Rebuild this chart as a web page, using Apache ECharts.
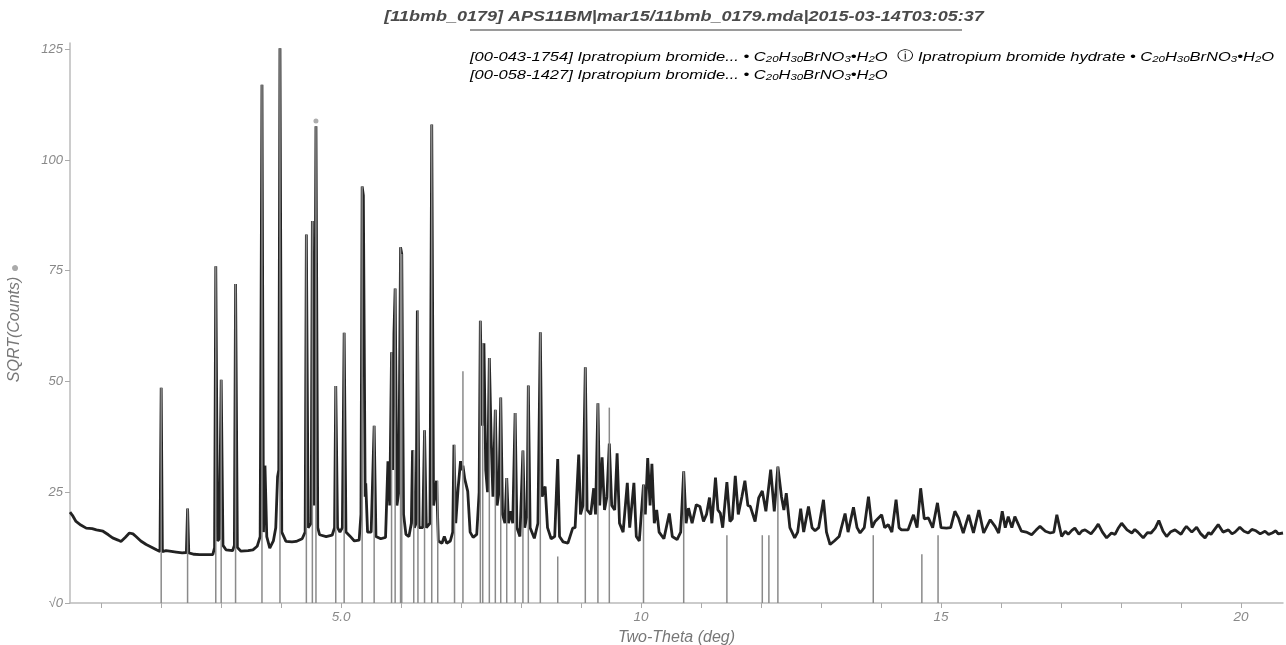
<!DOCTYPE html>
<html>
<head>
<meta charset="utf-8">
<script src="https://cdn.jsdelivr.net/npm/echarts@6/dist/echarts.min.js"></script>
<style>
html,body{margin:0;padding:0;background:#fff;}
#chart{width:1286px;height:645px;}
</style>
</head>
<body>
<div id="chart"></div>
<script>
// ---- DATA ----
const titleText = '[11bmb_0179] APS11BM|mar15/11bmb_0179.mda|2015-03-14T03:05:37';
const xTickValues = [1,2,3,4,5,6,7,8,9,10,11,12,13,14,15,16,17,18,19,20];
const xLabelValues = [5,10,15,20];
const yLabelValues = [0,25,50,75,100,125];

// observed profile: [two-theta, sqrt(counts)]
const profile = [
[0.48,20.5],[0.52,19.8],[0.58,18.4],[0.66,17.6],[0.75,16.9],[0.85,16.8],[0.92,16.5],[1.03,16.2],
[1.12,15.4],[1.19,14.7],[1.28,14.2],[1.33,13.9],[1.40,14.8],[1.47,15.8],[1.53,15.6],[1.58,15.0],
[1.66,14.0],[1.75,13.2],[1.84,12.6],[1.92,12.0],[1.98,11.6],[2.00,48.6],[2.02,11.6],[2.08,11.8],
[2.14,11.7],[2.25,11.5],[2.35,11.3],[2.42,11.4],[2.44,21.3],[2.46,11.3],[2.55,11.0],[2.64,10.9],
[2.75,10.9],[2.86,10.9],[2.89,12.5],[2.91,76],[2.94,14],[2.97,14.5],[3.00,50.4],[3.03,13],
[3.08,12],[3.19,11.8],[3.22,13],[3.24,72],[3.27,12.5],[3.33,11.7],[3.45,11.8],[3.53,12.0],
[3.60,12.8],[3.65,15],[3.68,117],[3.705,16],[3.73,31],[3.76,15],[3.81,12.4],[3.87,14],
[3.91,17],[3.94,28.5],[3.96,30],[3.98,125.2],[4.01,16],[4.08,13.9],[4.18,13.8],[4.25,13.9],
[4.35,14.5],[4.40,16],[4.42,83.2],[4.45,17],[4.50,18],[4.52,86.2],[4.55,22],[4.58,107.6],
[4.61,17],[4.64,15.4],[4.75,15],[4.85,15.3],[4.89,17],[4.91,49],[4.94,17],[4.98,16],
[5.02,17],[5.05,61],[5.08,16],[5.14,15.2],[5.22,14],[5.30,14.2],[5.33,20],[5.35,94],
[5.37,92],[5.40,24],[5.41,27],[5.44,16],[5.50,16],[5.55,40],[5.58,15],[5.66,14.5],
[5.74,14.8],[5.78,32],[5.81,22],[5.84,56.6],[5.86,30],[5.88,60.8],[5.90,71],[5.93,22],
[5.96,25],[5.99,80.3],[6.01,78.8],[6.04,20],[6.08,15.5],[6.13,15],[6.17,18],[6.19,34.5],
[6.22,17],[6.25,18],[6.27,66],[6.30,17],[6.36,17],[6.39,39],[6.42,17],[6.48,18],
[6.51,108],[6.54,22],[6.59,27.6],[6.62,14],[6.68,13.5],[6.72,15],[6.76,13.5],[6.82,14],
[6.86,16],[6.88,35.7],[6.91,18],[6.95,26],[6.99,32],[7.01,30],[7.03,31],[7.06,28],
[7.11,25.2],[7.15,16],[7.20,14.8],[7.26,15.5],[7.30,25],[7.32,63.7],[7.35,40],[7.38,58.6],
[7.41,30],[7.44,25],[7.47,55.3],[7.50,37.2],[7.53,24],[7.57,43.6],[7.60,22],[7.63,25],
[7.66,46.4],[7.69,20],[7.73,18],[7.76,28.2],[7.79,18],[7.83,20.7],[7.86,18],[7.90,42.9],
[7.93,17],[7.98,15],[8.03,34.4],[8.06,17],[8.10,20],[8.12,49.1],[8.15,17],[8.22,14.6],
[8.28,18],[8.32,61.1],[8.35,24],[8.40,26.3],[8.44,17],[8.50,14.5],[8.56,15],[8.61,32.5],
[8.64,15],[8.70,13.8],[8.78,13.5],[8.86,16.9],[8.90,17],[8.96,33.5],[8.99,20],[9.03,22],
[9.07,53.2],[9.10,21],[9.16,20],[9.21,25.9],[9.24,20],[9.28,45.1],[9.31,22],[9.35,32.9],
[9.39,21],[9.43,24],[9.47,36],[9.51,22],[9.56,21],[9.60,33.8],[9.64,18],[9.70,16],
[9.77,27.1],[9.81,17],[9.84,17],[9.88,27.1],[9.92,15],[9.97,14],[10.04,26.7],[10.07,20],
[10.11,32.7],[10.15,22],[10.18,31.4],[10.22,18],[10.26,21],[10.30,16],[10.38,14.5],[10.47,20.2],
[10.52,15],[10.60,14.3],[10.66,16],[10.71,29.7],[10.75,18],[10.79,21.4],[10.85,18],[10.92,22.2],
[10.98,21.8],[11.04,18.4],[11.09,20],[11.14,23.8],[11.18,18],[11.24,28.3],[11.28,21],[11.32,20.3],
[11.36,17],[11.43,27.3],[11.48,18.4],[11.52,19],[11.57,28.7],[11.62,20],[11.68,24],[11.73,27.6],
[11.78,22],[11.82,21.8],[11.90,18.4],[11.96,23.7],[12.02,25.3],[12.08,20.7],[12.16,30.1],[12.22,20.7],
[12.28,30.8],[12.34,24],[12.38,21],[12.42,24.8],[12.48,17],[12.56,14.7],[12.61,16],[12.66,21.3],
[12.71,16],[12.79,21.8],[12.85,17],[12.90,16.3],[12.96,17],[13.04,23.3],[13.09,16],[13.15,13.2],
[13.22,14],[13.30,15],[13.40,20.2],[13.45,16],[13.54,21.6],[13.60,17],[13.65,15.8],[13.72,17],
[13.79,24],[13.85,17],[13.90,18.4],[14.01,19.9],[14.06,17],[14.12,17.7],[14.18,16],[14.25,23.3],
[14.30,17],[14.34,16.5],[14.45,16.5],[14.54,19.9],[14.60,17],[14.66,25.9],[14.72,19],[14.79,19.2],
[14.86,17],[14.94,22.6],[15.00,17],[15.09,16.9],[15.16,17],[15.23,20.7],[15.29,19.2],[15.37,15.8],
[15.46,19.9],[15.54,15.8],[15.63,21],[15.71,15.8],[15.82,18.8],[15.90,17.3],[15.96,15.8],[16.02,20.7],
[16.07,17],[16.12,19.5],[16.18,17],[16.23,19.5],[16.34,16.2],[16.42,16],[16.51,15.4],[16.58,16.4],
[16.65,17.3],[16.74,16.2],[16.82,15.8],[16.88,16],[16.93,19.9],[17.01,15],[17.07,16.2],[17.12,15.5],
[17.18,16.4],[17.23,16.9],[17.30,15.5],[17.35,16.3],[17.40,16.5],[17.50,15.6],[17.56,16.6],[17.62,17.8],
[17.69,16],[17.76,14.7],[17.84,15.8],[17.90,15.5],[17.95,16.8],[18.01,18],[18.10,16.5],[18.18,15.8],
[18.23,16.6],[18.28,16],[18.37,14.7],[18.44,15.9],[18.50,15.8],[18.57,16.9],[18.63,18.6],[18.70,16.2],
[18.76,15],[18.83,16.1],[18.90,16.5],[19.00,15.5],[19.05,16.6],[19.09,17.3],[19.18,16],[19.26,17.1],
[19.33,15.6],[19.40,14.7],[19.46,15.9],[19.50,15.5],[19.57,16.8],[19.62,17.7],[19.70,16],[19.79,16.5],
[19.85,15.6],[19.90,16],[19.98,17.1],[20.05,16.2],[20.12,15.8],[20.18,16.6],[20.25,16.3],[20.32,15.6],
[20.40,16.2],[20.46,15.5],[20.52,15.8],[20.58,16.3],[20.62,15.6],[20.70,15.8]
];

// reference pattern sticks: positions and heights
const stickPos = [2.00,2.44,2.91,3.00,3.24,3.68,3.98,4.42,4.52,4.58,4.91,5.05,5.35,5.55,5.84,5.90,5.99,6.01,
  6.21,6.28,6.39,6.51,6.61,6.89,7.03,7.32,7.36,7.47,7.57,7.66,7.76,7.90,8.03,8.12,8.32,8.61,9.07,9.28,9.47,
  10.04,10.71,11.43,12.02,12.13,12.28,13.87,14.68,14.95];
const stickHeight = [48.6,21.3,76,50.4,72,117,125.2,83.2,86.2,107.6,49,61,94,40,56.6,71,80.3,78.8,
  34.5,66,39,108,27.6,35.7,52.3,63.7,58.6,55.3,43.6,46.4,28.2,42.9,34.4,49.1,61.1,10.5,53.2,45.1,44.1,
  26.7,29.7,15.3,15.3,15.3,30.8,15.3,11,15.3];

const markerPt = [[4.58,108.8]];

// ---- CHART ----
const stickData = stickPos.map((p,i)=>[p, stickHeight[i]]);
const chart = echarts.init(document.getElementById('chart'));
const gray = '#8a8a8a';
const FF = 'Liberation Sans';
function rs(c, size){ return {fontSize:size,fontStyle:'italic',fontFamily:FF,color:c}; }
const rich = {
  t: rs('#444',13),
  s: Object.assign(rs('#444',9),{padding:[5,0,0,0]}),
  g: rs('#8a8a8a',13),
  gs: Object.assign(rs('#8a8a8a',9),{padding:[5,0,0,0]}),
  i: {fontSize:13,color:'#8a8a8a',fontFamily:'DejaVu Sans'}
};
const f1 = '{t|C}{s|20}{t|H}{s|30}{t|BrNO}{s|3}{t|•H}{s|2}{t|O}';
const f2 = '{g|C}{gs|20}{g|H}{gs|30}{g|BrNO}{gs|3}{g|•H}{gs|2}{g|O}';

chart.setOption({
  animation:false,
  backgroundColor:'#fff',
  graphic:[
    {type:'text', x:684, y:17, scaleX:1.2, z:10, style:{
      text:titleText, fontSize:15, fontWeight:'bold', fontStyle:'italic', fontFamily:FF,
      fill:'#4a4a4a', align:'center', verticalAlign:'middle'}},
    {type:'line', shape:{x1:470,y1:30,x2:962,y2:30}, style:{stroke:'#9a9a9a',lineWidth:2}},
    {type:'text', x:470, y:57, scaleX:1.27, style:{
      text:'{t|[00-043-1754] Ipratropium bromide... • }'+f1+'{t|  }{i|ⓘ}{g| Ipratropium bromide hydrate • }'+f2,
      rich:rich, verticalAlign:'middle'}},
    {type:'text', x:470, y:75, scaleX:1.27, style:{
      text:'{t|[00-058-1427] Ipratropium bromide... • }'+f1, rich:rich, verticalAlign:'middle'}}
  ],
  grid:{left:70, right:3, top:43, bottom:42, containLabel:false, outerBoundsMode:'none'},
  xAxis:{
    type:'value', min:0.48, max:20.7,
    name:'Two-Theta (deg)', nameLocation:'middle', nameGap:27,
    nameTextStyle:{fontSize:16,fontStyle:'italic',color:'#777',fontFamily:FF},
    axisLine:{lineStyle:{color:'#bbb',width:1.5}},
    axisTick:{show:true, customValues:xTickValues, length:5, lineStyle:{color:'#aaa'}},
    axisLabel:{customValues:xLabelValues, formatter:v=> v===5?'5.0':String(v),
      fontSize:13.5,fontStyle:'italic',color:'#888',fontFamily:FF,margin:7},
    splitLine:{show:false}
  },
  yAxis:{
    type:'value', min:0, max:126.4,
    name:'SQRT(Counts) {d|●}', nameLocation:'middle', nameGap:47, nameRotate:90,
    nameTextStyle:{fontSize:16,fontStyle:'italic',color:'#777',fontFamily:FF,
      rich:{d:{fontSize:14,color:'#aaa'}}},
    axisLine:{show:true,lineStyle:{color:'#bbb',width:1.5}},
    axisTick:{show:true, customValues:yLabelValues, length:5, lineStyle:{color:'#aaa'}},
    axisLabel:{customValues:yLabelValues, formatter:v=> v===0?'√0':String(v),
      fontSize:13,fontStyle:'italic',color:'#888',fontFamily:FF,margin:7},
    splitLine:{show:false}
  },
  series:[
    {type:'line', data:profile, showSymbol:false, symbol:'none', z:2,
     lineStyle:{color:'#222',width:2.8}},
    {type:'custom', data:stickData, z:3,
     renderItem:function(params, api){
       const x = api.value(0), h = api.value(1);
       const p0 = api.coord([x,0]), p1 = api.coord([x,h]);
       return {type:'line', shape:{x1:p0[0],y1:p0[1],x2:p1[0],y2:p1[1]},
         style:{stroke:gray,lineWidth:1.5}};
     }},
    {type:'scatter', data:markerPt, symbolSize:5, itemStyle:{color:'#999'}, z:4}
  ]
});
</script>
</body>
</html>
